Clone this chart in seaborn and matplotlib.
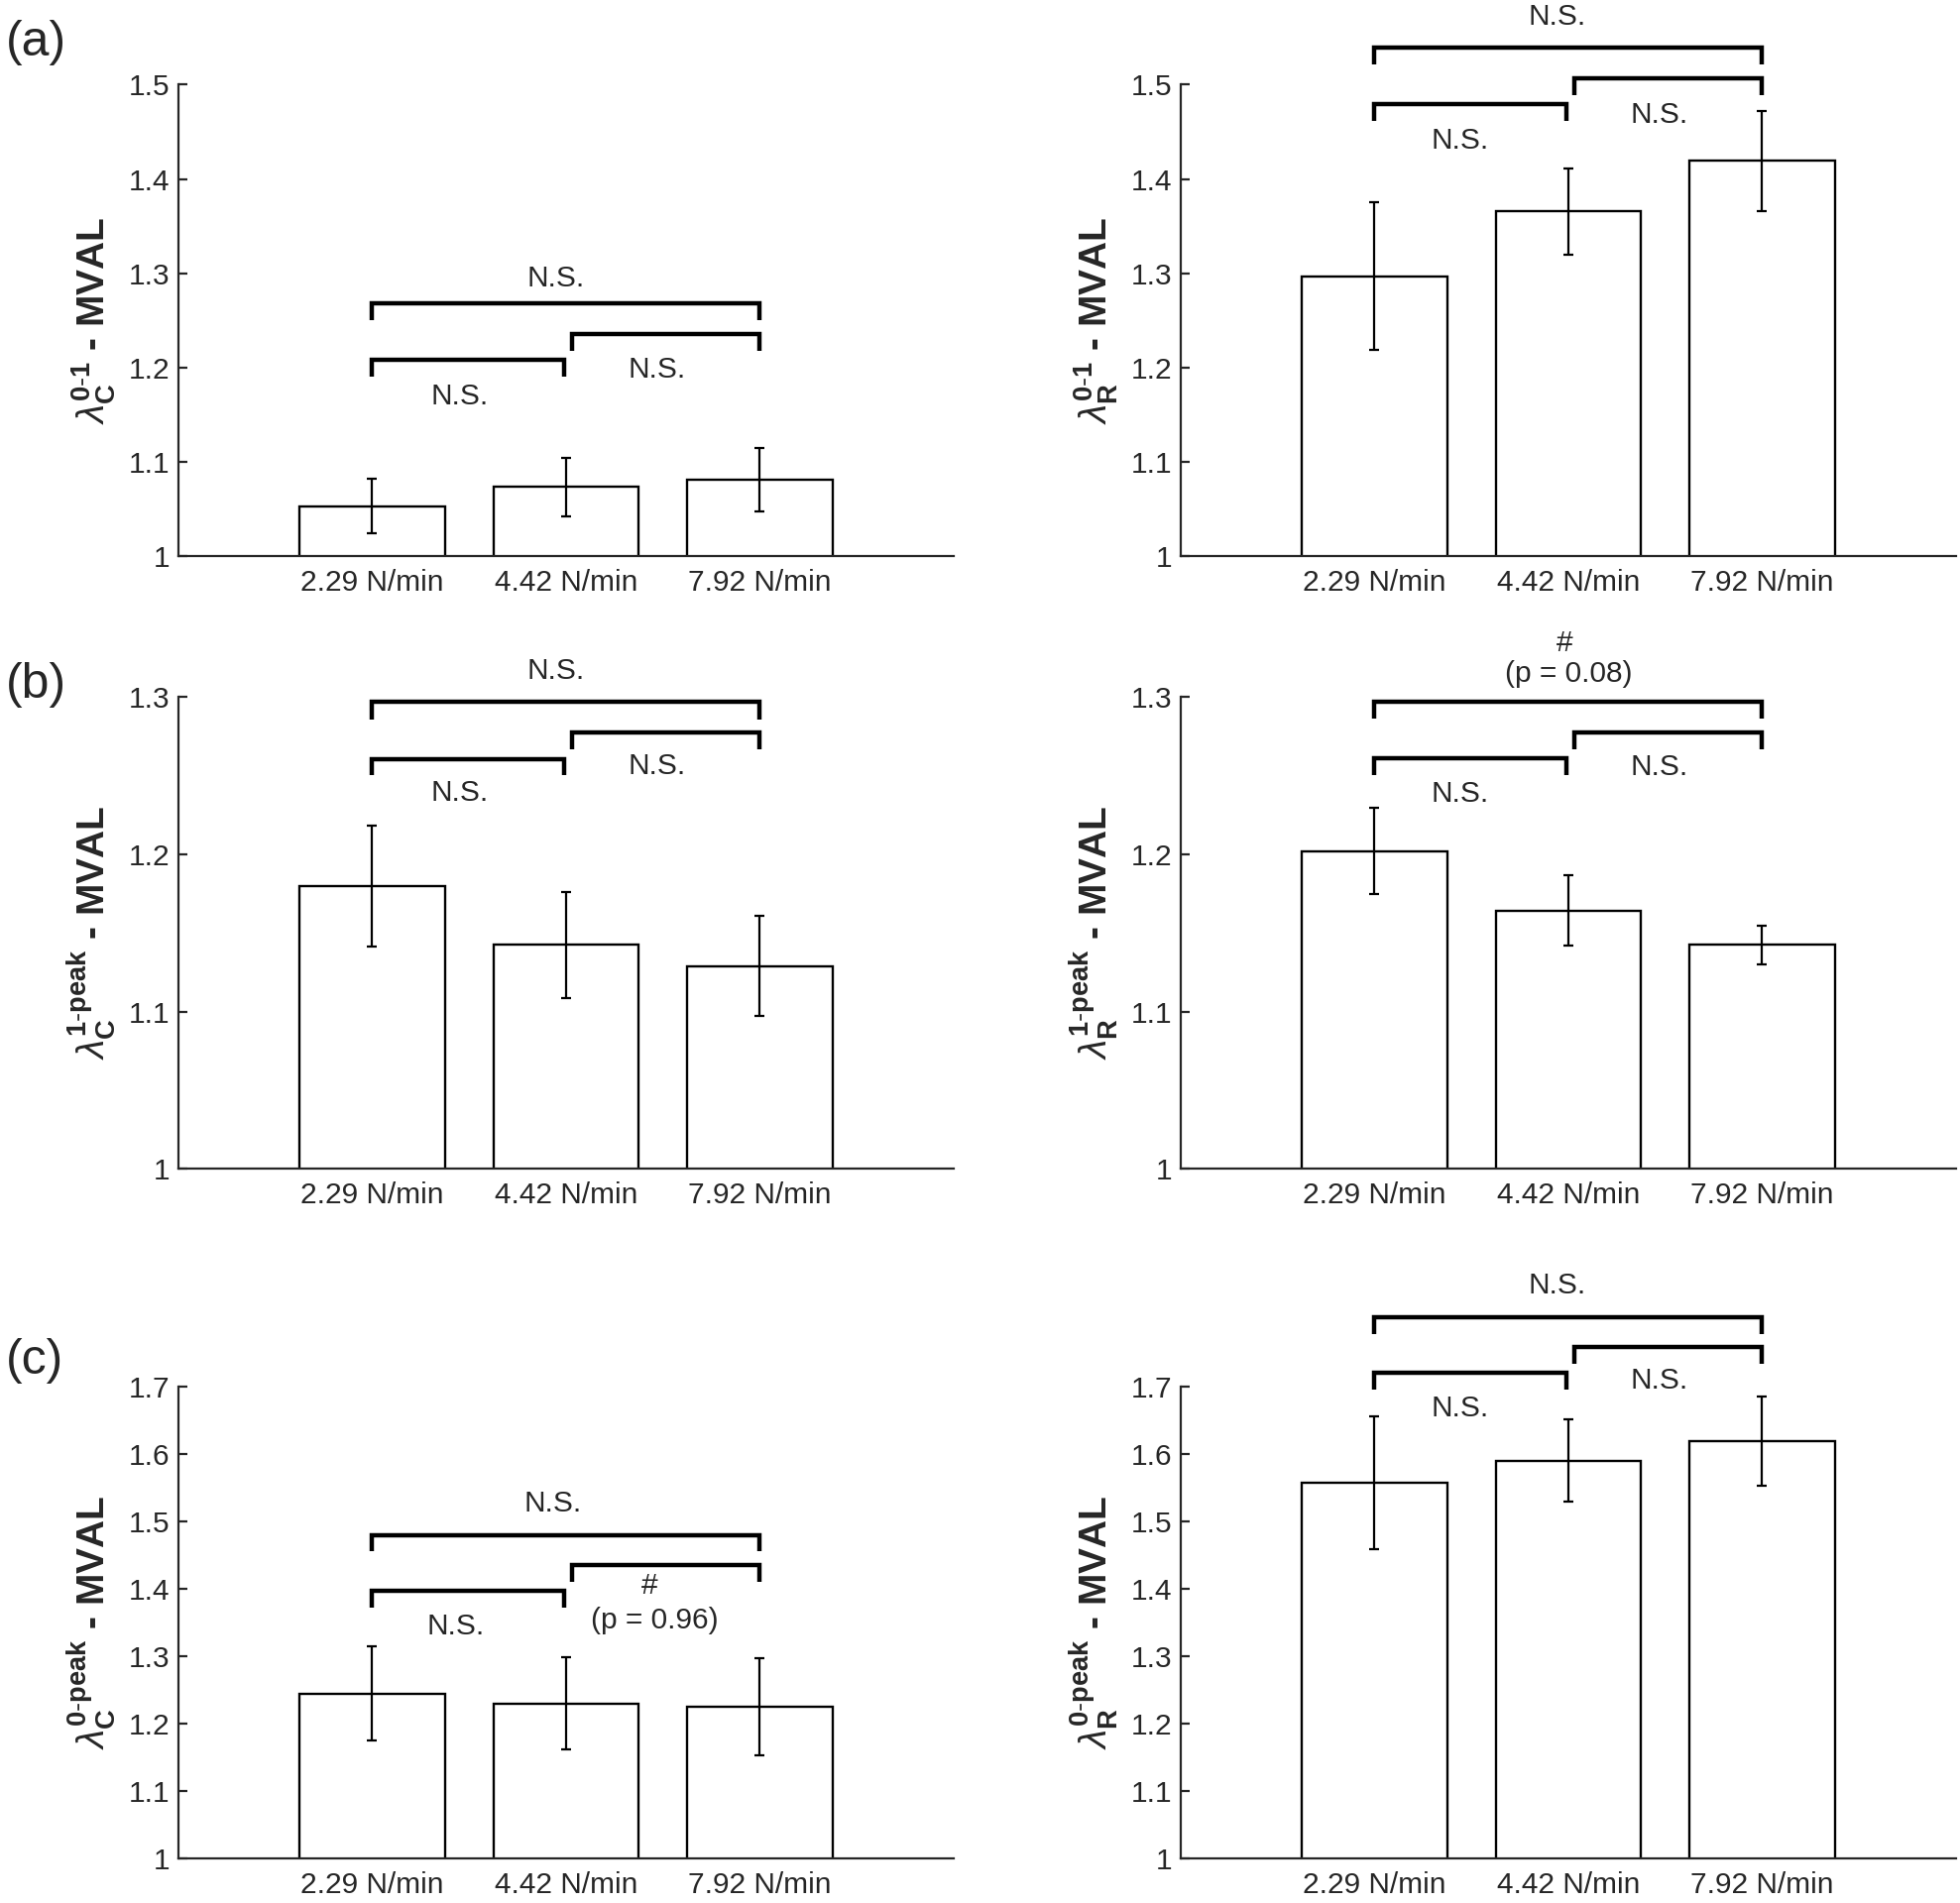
import matplotlib
matplotlib.use("Agg")
import matplotlib.pyplot as plt
import seaborn as sns
import pandas as pd

# conditions on the x axis
conditions = ["2.29 N/min", "4.42 N/min", "7.92 N/min"]

# bar heights and error bars
c01_vals = [1.053, 1.0735, 1.081]
c01_err = [0.029, 0.031, 0.034]
r01_vals = [1.297, 1.3656, 1.419]
r01_err = [0.078, 0.046, 0.053]
c1p_vals = [1.1798, 1.1423, 1.129]
c1p_err = [0.0385, 0.0337, 0.032]
r1p_vals = [1.2021, 1.1643, 1.1424]
r1p_err = [0.0273, 0.0222, 0.0124]
c0p_vals = [1.245, 1.2304, 1.2258]
c0p_err = [0.070, 0.069, 0.072]
r0p_vals = [1.558, 1.5905, 1.620]
r0p_err = [0.099, 0.061, 0.066]

# y-axis limits per row
ylims = [(1, 1.5), (1, 1.3), (1, 1.7)]

# significance brackets: (x start, x end, y top, y bottom of the drop)
c01_brackets = [(0, 0.99, 1.2085, 1.19), (1.03, 2, 1.2355, 1.2176), (0, 2, 1.268, 1.25)]
r01_brackets = [(0, 0.99, 1.479, 1.4617), (1.03, 2, 1.5067, 1.489), (0, 2, 1.539, 1.521)]
c1p_brackets = [(0, 0.99, 1.2608, 1.2505), (1.03, 2, 1.2775, 1.267), (0, 2, 1.297, 1.286)]
r1p_brackets = [(0, 0.99, 1.2614, 1.2506), (1.03, 2, 1.2776, 1.2666), (0, 2, 1.2972, 1.2864)]
c0p_brackets = [(0, 0.99, 1.3974, 1.373), (1.03, 2, 1.4358, 1.411), (0, 2, 1.4806, 1.456)]
r0p_brackets = [(0, 0.99, 1.7217, 1.6957), (1.03, 2, 1.7601, 1.7347), (0, 2, 1.804, 1.7793)]

# bracket labels: (text, x, y)
c01_notes = [("N.S.", 0.45, 1.169), ("N.S.", 1.47, 1.198), ("N.S.", 0.95, 1.294)]
r01_notes = [("N.S.", 0.44, 1.441), ("N.S.", 1.47, 1.468), ("N.S.", 0.94, 1.572)]
c1p_notes = [("N.S.", 0.45, 1.239), ("N.S.", 1.47, 1.256), ("N.S.", 0.95, 1.317)]
r1p_notes = [("N.S.", 0.44, 1.2382), ("N.S.", 1.47, 1.2555),
             ("#", 0.98, 1.3345), ("(p = 0.08)", 1.0, 1.3147)]
c0p_notes = [("N.S.", 0.43, 1.344), ("#", 1.43, 1.405), ("(p = 0.96)", 1.46, 1.3538),
             ("N.S.", 0.93, 1.527)]
r0p_notes = [("N.S.", 0.44, 1.668), ("N.S.", 1.47, 1.709), ("N.S.", 0.94, 1.8507)]

ylabels = [
    r"$\lambda_{\mathbf{C}}^{\mathbf{0}\text{-}\mathbf{1}}$ - MVAL",
    r"$\lambda_{\mathbf{R}}^{\mathbf{0}\text{-}\mathbf{1}}$ - MVAL",
    r"$\lambda_{\mathbf{C}}^{\mathbf{1}\text{-}\mathbf{peak}}$ - MVAL",
    r"$\lambda_{\mathbf{R}}^{\mathbf{1}\text{-}\mathbf{peak}}$ - MVAL",
    r"$\lambda_{\mathbf{C}}^{\mathbf{0}\text{-}\mathbf{peak}}$ - MVAL",
    r"$\lambda_{\mathbf{R}}^{\mathbf{0}\text{-}\mathbf{peak}}$ - MVAL",
]

sns.set_style("ticks")
plt.rcParams["font.family"] = ["Liberation Sans", "DejaVu Sans"]
plt.rcParams["mathtext.fontset"] = "custom"
plt.rcParams["mathtext.rm"] = "Liberation Sans"
plt.rcParams["mathtext.bf"] = "Liberation Sans:bold"
plt.rcParams["mathtext.it"] = "Liberation Sans:italic"

fig = plt.figure(figsize=(19.77, 19.2), dpi=100)

panels = [
    (c01_vals, c01_err, c01_brackets, c01_notes),
    (r01_vals, r01_err, r01_brackets, r01_notes),
    (c1p_vals, c1p_err, c1p_brackets, c1p_notes),
    (r1p_vals, r1p_err, r1p_brackets, r1p_notes),
    (c0p_vals, c0p_err, c0p_brackets, c0p_notes),
    (r0p_vals, r0p_err, r0p_brackets, r0p_notes),
]

row_bottoms = [0.7078, 0.3859, 0.0234]
col_lefts = [0.0910, 0.6024]
ax_w, ax_h = 0.3955, 0.2477

for i, (vals, errs, brackets, notes) in enumerate(panels):
    row, col = divmod(i, 2)
    ax = fig.add_axes([col_lefts[col], row_bottoms[row], ax_w, ax_h])
    df = pd.DataFrame({"cond": conditions, "val": vals})
    sns.barplot(data=df, x="cond", y="val", color="white", edgecolor="black",
                linewidth=1.7, width=0.75, errorbar=None, ax=ax)
    ax.errorbar(range(len(vals)), vals, yerr=errs, fmt="none", ecolor="black",
                elinewidth=1.6, capsize=3.3, capthick=1.6)

    # significance brackets
    for x1, x2, yt, yb in brackets:
        ax.plot([x1, x1, x2, x2], [yb, yt, yt, yb], color="black", lw=3.2,
                clip_on=False, solid_joinstyle="miter", solid_capstyle="butt")
    for txt, x, y in notes:
        ax.text(x, y, txt, ha="center", va="center", fontsize=21.5, clip_on=False)

    lo, hi = ylims[row]
    ax.set_ylim(lo, hi)
    ax.set_yticks([round(lo + 0.1 * k, 1) for k in range(int(round((hi - lo) * 10)) + 1)])
    ax.set_yticklabels(["1" if t == 1 else f"{t:.1f}" for t in ax.get_yticks()])
    ax.set_xlim(-1, 3)
    ax.set_xlabel("")
    ax.set_ylabel(ylabels[i], fontsize=28, fontweight="bold", labelpad=8)
    sns.despine(ax=ax)
    for s in ["left", "bottom"]:
        ax.spines[s].set_linewidth(1.6)
    ax.tick_params(direction="in", length=6.5, width=1.6, labelsize=21.5)
    ax.tick_params(axis="x", pad=9)
    ax.tick_params(axis="y", pad=6)

# panel letters
for lab, y in zip(["(a)", "(b)", "(c)"], [20, 668, 1350]):
    fig.text(0.003, 1 - y / 1920, lab, fontsize=36, va="top", ha="left")

fig.savefig("out.png", dpi=100)
